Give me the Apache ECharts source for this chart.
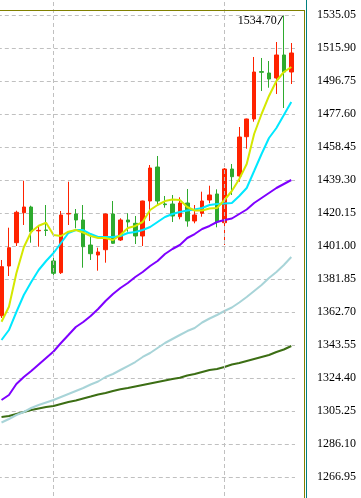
<!DOCTYPE html>
<html>
<head>
<meta charset="utf-8">
<script src="https://cdn.jsdelivr.net/npm/echarts@6/dist/echarts.min.js"></script>
<style>
html,body{margin:0;padding:0;background:#fff;overflow:hidden;width:361px;height:498px;}
#chart{position:absolute;left:-10px;top:-18px;width:371px;height:528px;}
</style>
</head>
<body>
<div id="chart"></div>
<script>
// ---- data ----
const categories = ['1','2','3','4','5','6','7','8','9','10','11','12','13','14','15','16','17','18','19','20',
  '21','22','23','24','25','26','27','28','29','30','31','32','33','34','35','36','37','38','39','40'];
const openP  = [1360.55,1389.39,1402.92,1420.32,1423.63,1409.80,1410.30,1392.30,1385.51,1419.60,
  1419.57,1416.09,1401.58,1395.78,1398.85,1419.57,1404.48,1416.09,1414.17,1406.80,
  1427.11,1446.84,1425.40,1425.37,1418.00,1425.95,1415.51,1419.98,1427.69,1431.18,
  1414.52,1445.68,1441.62,1464.43,1474.70,1502.20,1501.39,1498.49,1511.84,1501.97];
const closeP = [1388.99,1400.01,1420.56,1423.63,1409.30,1410.10,1410.00,1385.16,1418.99,1419.90,
  1416.09,1400.59,1396.53,1397.52,1419.57,1402.57,1416.09,1414.93,1406.80,1427.11,
  1446.26,1427.11,1425.00,1418.41,1425.95,1415.51,1418.99,1427.11,1430.60,1414.93,
  1445.68,1441.22,1464.25,1474.70,1501.97,1501.80,1497.91,1511.84,1501.97,1513.00];
const lowP   = [1359.22,1383.59,1401.00,1413.19,1402.92,1400.59,1406.80,1383.59,1384.75,1413.19,
  1411.27,1388.41,1392.88,1386.67,1391.31,1402.20,1403.90,1409.30,1402.16,1401.00,
  1415.51,1424.21,1423.23,1414.93,1416.49,1412.20,1414.17,1418.00,1425.78,1411.85,
  1401.58,1430.60,1438.31,1457.46,1473.13,1490.95,1492.86,1489.21,1481.08,1495.01];
const highP  = [1392.88,1411.62,1421.48,1438.89,1424.39,1412.78,1424.79,1398.27,1421.31,1438.31,
  1422.47,1424.79,1407.96,1400.01,1419.80,1427.11,1417.08,1419.98,1418.41,1427.30,
  1448.00,1453.23,1430.02,1430.60,1429.26,1434.08,1424.79,1432.51,1435.99,1433.90,
  1446.26,1448.59,1470.06,1474.90,1510.68,1510.10,1508.36,1519.38,1534.70,1518.80];
const ma5  = [1357.07,1365.78,1385.16,1400.25,1409.30,1412.78,1414.52,1407.38,1406.80,1409.30,
  1410.28,1408.83,1406.80,1405.64,1405.64,1404.48,1407.38,1411.45,1412.61,1414.93,
  1421.90,1424.79,1427.11,1427.99,1427.69,1423.63,1421.60,1421.60,1422.76,1423.05,
  1427.69,1432.92,1439.88,1448.58,1465.99,1477.60,1488.05,1496.75,1501.97,1504.87];
const ma10 = [1346.45,1352.25,1362.70,1372.56,1380.11,1387.07,1392.30,1396.94,1402.74,1408.54,
  1410.28,1410.28,1407.96,1406.22,1406.22,1406.22,1406.80,1408.54,1409.12,1410.28,
  1412.03,1414.93,1417.83,1419.57,1420.73,1421.60,1422.18,1423.05,1424.79,1425.37,
  1425.66,1425.95,1430.02,1434.66,1444.52,1454.39,1463.67,1469.48,1477.02,1484.56];
const ma20 = [1311.63,1314.54,1320.92,1324.98,1328.46,1332.23,1336.01,1339.78,1344.71,1349.35,
  1354.00,1356.90,1360.38,1364.44,1369.08,1373.15,1376.63,1379.53,1383.01,1385.91,
  1389.39,1392.30,1396.36,1399.26,1401.58,1405.64,1407.96,1410.87,1412.61,1414.93,
  1416.09,1416.96,1419.57,1422.18,1425.95,1428.86,1431.76,1434.66,1436.98,1439.30];
const ma60 = [1298.58,1300.61,1302.93,1304.67,1306.99,1308.73,1310.18,1311.63,1313.37,1315.12,
  1316.86,1318.60,1320.63,1322.37,1324.98,1326.72,1329.04,1331.36,1333.68,1336.59,
  1338.91,1341.81,1344.71,1347.03,1349.35,1351.67,1353.41,1356.61,1358.93,1360.96,
  1363.28,1365.31,1368.21,1371.41,1374.89,1378.37,1382.43,1385.91,1389.97,1394.62];
const ma120 = [1301.77,1302.35,1303.51,1304.67,1305.83,1306.70,1307.57,1308.15,1309.31,1310.47,
  1311.34,1312.50,1313.66,1314.83,1315.70,1316.86,1317.84,1318.60,1319.47,1320.34,
  1321.21,1322.08,1322.95,1323.82,1324.58,1325.85,1326.72,1327.88,1329.04,1329.62,
  1330.78,1332.23,1333.10,1334.27,1335.43,1336.59,1337.75,1339.49,1340.94,1342.97];
const yTickLabels = ['1535.05','1515.90','1496.75','1477.60','1458.45','1439.30','1420.15','1401.00',
  '1381.85','1362.70','1343.55','1324.40','1305.25','1286.10','1266.95'];
const yStep = 19.15;
const dividerIdx = [7, 30];
const highIdx = 38;

// ---- chart ----
// the chart container is offset by (-10, -18) relative to the visible window
const OX = 10, OY = 18;
const yMin = parseFloat(yTickLabels[yTickLabels.length - 1]) - yStep;
const yMax = parseFloat(yTickLabels[0]) + yStep;
const candleData = openP.map((o, i) => [o, closeP[i], lowP[i], highP[i]]);
const chart = echarts.init(document.getElementById('chart'), null, {renderer: 'canvas'});
const FONT = '"Liberation Serif", serif';

function lineSeries(name, data, color) {
  return {
    name, type: 'line', data, showSymbol: false, smooth: false, silent: true,
    lineStyle: {color, width: 2}, z: 3
  };
}

chart.setOption({
  animation: false,
  backgroundColor: '#ffffff',
  grid: {left: 7.8, right: 66, top: 0, bottom: 0, containLabel: false},
  xAxis: {
    type: 'category', data: categories, boundaryGap: true,
    axisLine: {show: false}, axisTick: {show: false}, axisLabel: {show: false},
    splitLine: {show: false}
  },
  yAxis: {
    type: 'value', position: 'right', min: yMin, max: yMax, interval: yStep,
    axisLine: {show: false}, axisTick: {show: false},
    axisLabel: {
      show: true, margin: 22, color: '#000', fontSize: 12, fontFamily: FONT,
      showMinLabel: false, showMaxLabel: false,
      formatter: v => v.toFixed(2)
    },
    splitLine: {show: true, lineStyle: {color: '#c0c0c0', type: [4, 3], width: 1}}
  },
  series: [
    {
      type: 'candlestick', data: candleData, barWidth: 4, z: 2,
      itemStyle: {color: '#ff2200', color0: '#2eaa2e', borderColor: '#ff2200', borderColor0: '#2eaa2e', borderWidth: 1},
      markLine: {
        silent: true, symbol: ['none', 'none'], label: {show: false},
        lineStyle: {color: '#c0c0c0', type: [4, 3], width: 1},
        data: dividerIdx.map(i => ({xAxis: categories[i]}))
      }
    },
    lineSeries('MA120', ma120, '#3c6e14'),
    lineSeries('MA60', ma60, '#a8d4d8'),
    lineSeries('MA20', ma20, '#7f00ff'),
    lineSeries('MA10', ma10, '#00e8ff'),
    lineSeries('MA5', ma5, '#d4e800')
  ]
});

const hp = chart.convertToPixel({gridIndex: 0}, [highIdx, highP[highIdx]]);
chart.setOption({
  graphic: [
    {type: 'line', silent: true, z: 10, shape: {x1: OX + 0, y1: OY + 10.5, x2: OX + 305, y2: OY + 10.5}, style: {stroke: '#808000', lineWidth: 1}},
    {type: 'line', silent: true, z: 10, shape: {x1: OX + 304.5, y1: OY + 10, x2: OX + 304.5, y2: OY + 498}, style: {stroke: '#808000', lineWidth: 1}},
    {type: 'line', silent: true, z: 10, shape: {x1: OX + 306.5, y1: OY + 0, x2: OX + 306.5, y2: OY + 498}, style: {stroke: '#008080', lineWidth: 1}},
    {type: 'line', silent: true, z: 10, shape: {x1: hp[0] - 6, y1: hp[1] + 9, x2: hp[0] - 1, y2: hp[1]}, style: {stroke: '#000', lineWidth: 1}},
    {type: 'text', silent: true, z: 10, x: hp[0] - 7, y: hp[1] + 5,
      style: {text: highP[highIdx].toFixed(2), fill: '#000', font: '12px ' + FONT, textAlign: 'right', textVerticalAlign: 'middle'}}
  ]
});
</script>
</body>
</html>
